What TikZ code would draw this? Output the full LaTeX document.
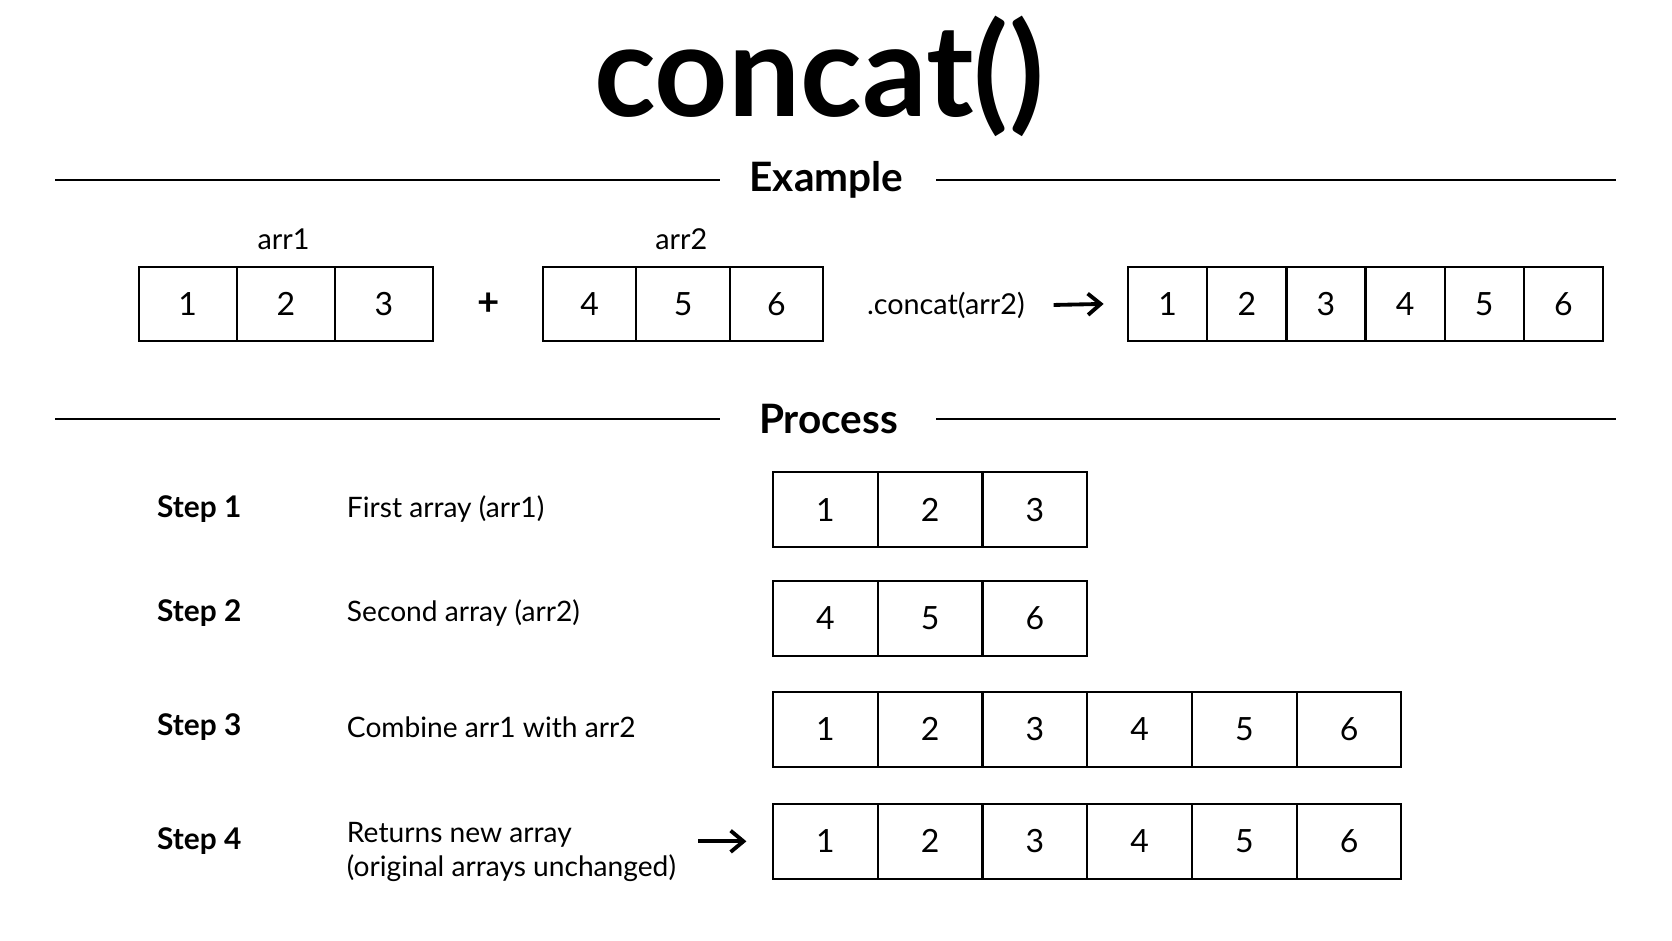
\documentclass[tikz,border=0pt]{standalone}
\usepackage{fontspec}
\setmainfont{Lato}
\usetikzlibrary{arrows.meta}
\begin{document}
\begin{tikzpicture}[x=0.5pt,y=-0.5pt,
  cell/.style={draw,line width=1pt,minimum height=35pt,inner sep=0pt,font=\fontsize{15}{18}\selectfont},
  sec/.style={font=\bfseries\fontsize{19}{22}\selectfont},
  rule/.style={line width=1.1pt},
  lbl/.style={font=\fontsize{13.5}{16}\selectfont},
  steplbl/.style={font=\bfseries\fontsize{14}{17}\selectfont,anchor=west,inner sep=0pt},
  desc/.style={font=\fontsize{13.2}{16}\selectfont,anchor=west,align=left,inner sep=0pt},
  arr/.style={-{Straight Barb[length=6pt,width=10pt]},line width=1.8pt}]
\useasboundingbox[fill=white] (0,0) rectangle (1568,882);
\node[font=\bfseries\fontsize{60}{64}\selectfont] (title) at (768,72) {concat()};
% Example
\node[sec] (ex) at (775,169) {Example};
\coordinate (el) at (52,169); \coordinate (er) at (1515,169);
\draw[rule] (el) -- (ex.west -| 675,0); \draw[rule] (ex.east -| 878,0) -- (er);
\foreach \v [count=\i] in {1,2,3}
  \node[cell,minimum width=46pt] (a\i) at ({176+92*(\i-1)},285) {\v};
\node[lbl] (a1l) at (266,224) {arr1};
\node[font=\bfseries\fontsize{18}{20}\selectfont] (plus) at (458,285) {+};
\foreach \v [count=\i] in {4,5,6}
  \node[cell,minimum width=43.8pt] (b\i) at ({553+87.6*(\i-1)},285) {\v};
\node[lbl] (a2l) at (639,224) {arr2};
\node[lbl] (cc) at (887,286) {.concat(arr2)};
\foreach \v [count=\i] in {1,2,3,4,5,6}
  \node[cell,minimum width=37.1pt] (r\i) at ({1095.1+74.2*(\i-1)},285) {\v};
\draw[arr] (cc.east -| 988,0) -- (r1.west -| 1035,0);
% Process
\node[sec] (pr) at (777,393) {Process};
\coordinate (pl) at (52,393); \coordinate (prr) at (1515,393);
\draw[rule] (pl) -- (pr.west -| 675,0); \draw[rule] (pr.east -| 878,0) -- (prr);
\node[steplbl] (s1) at (147,477) {Step 1};
\node[desc] (d1) at (325,477) {First array (arr1)};
\node[steplbl] (s2) at (147,575) {Step 2};
\node[desc] (d2) at (325,575) {Second array (arr2)};
\node[steplbl] (s3) at (147,682) {Step 3};
\node[desc] (d3) at (325,682) {Combine arr1 with arr2};
\node[steplbl] (s4) at (147,789) {Step 4};
\node[desc] (d4) at (325,799) {Returns new array\\(original arrays unchanged)};
\foreach \v [count=\i] in {1,2,3}
  \node[cell,minimum width=49.1pt] (p\i) at ({774.1+98.2*(\i-1)},478) {\v};
\foreach \v [count=\i] in {4,5,6}
  \node[cell,minimum width=49.1pt] (q\i) at ({774.1+98.2*(\i-1)},580) {\v};
\foreach \v [count=\i] in {1,2,3,4,5,6}
  \node[cell,minimum width=49.1pt] (c\i) at ({774.1+98.2*(\i-1)},684) {\v};
\foreach \v [count=\i] in {1,2,3,4,5,6}
  \node[cell,minimum width=49.1pt] (n\i) at ({774.1+98.2*(\i-1)},789) {\v};
\draw[arr] (n1.west -| 655,0) -- (n1.west -| 700,0);
\end{tikzpicture}
\end{document}
